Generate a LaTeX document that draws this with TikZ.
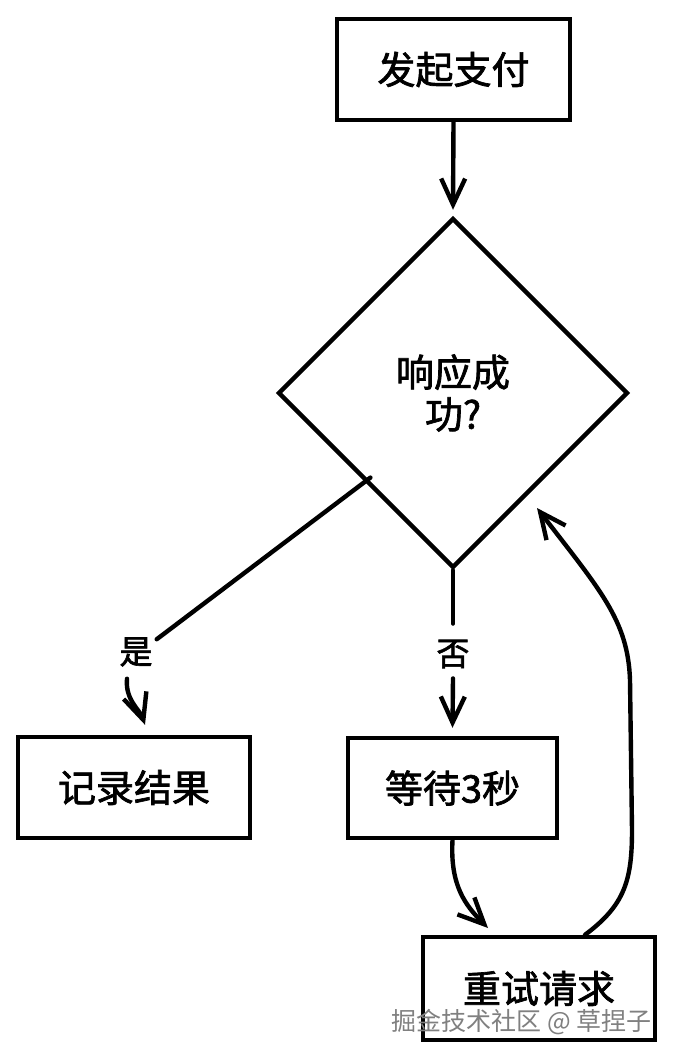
\documentclass[tikz,border=0pt]{standalone}
\usepackage{fontspec}
\setmainfont{Noto Sans CJK SC}
\newfontfamily\handfont{Noto Sans CJK SC}[FakeBold=1.8]
\usetikzlibrary{shapes.geometric,arrows.meta}
\tikzset{
  box/.style={draw, line width=4.4pt, inner sep=0pt, font=\handfont\fontsize{38}{42}\selectfont},
  lbl/.style={inner sep=2pt, font=\handfont\fontsize{33}{36}\selectfont},
  conn/.style={line width=4.4pt, line cap=round},
  arr/.style={conn, -{Straight Barb[length=26pt,width=24pt,line width=4.4pt]}},
}
\begin{document}
\begin{tikzpicture}[x=1pt,y=-1pt]
\useasboundingbox[fill=white] (0,0) rectangle (674,1058);
\node[box, minimum width=233pt, minimum height=101pt] (start) at (453.5,69.5) {发起支付};
\node[box, diamond, aspect=1, minimum width=350pt, minimum height=350pt, align=center] (d) at (453,393) {响应成\\功?};
\node[box, minimum width=232pt, minimum height=101pt] (rec) at (134,787.5) {记录结果};
\node[box, minimum width=209pt, minimum height=100pt] (wait) at (452.5,788) {等待3秒};
\node[box, minimum width=232pt, minimum height=103pt] (retry) at (539,988.5) {重试请求};
\node[lbl] (yes) at (136,652) {是};
\node[lbl] (no) at (453,654) {否};
\node[font=\fontsize{25}{28}\selectfont, text=black!50, anchor=east, inner sep=0pt] (wm) at (652,1022) {掘金技术社区 @ 草捏子};
\coordinate (tipd) at (537,508);
\draw[arr] (start.south) -- ([yshift=6pt]d.north);
\draw[conn] ([shift={(6pt,4pt)}]d.south west) -- ([shift={(2pt,-4pt)}]yes.north east);
\draw[arr] ([shift={(-9pt,-10pt)}]yes.south) .. controls (125,700) and (140,710) .. ([shift={(11pt,10pt)}]rec.north);
\draw[conn] (d.south) -- ([yshift=14pt]no.north);
\draw[arr] ([yshift=-8pt]no.south) -- ([yshift=8pt]wait.north);
\draw[arr] (wait.south) .. controls (450,885) and (465,905) .. (488,928);
\draw[arr] ([xshift=46pt]retry.north) .. controls (625,905) and (632,880) .. (632,830) -- (630,680) .. controls (628,620) and (600,590) .. (tipd);
\end{tikzpicture}
\end{document}
